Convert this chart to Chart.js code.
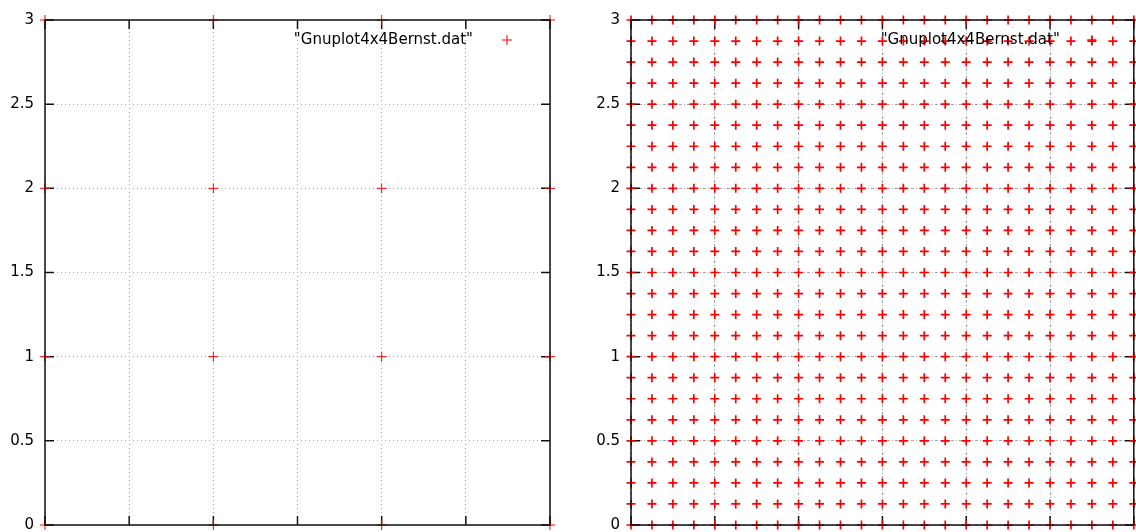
<!DOCTYPE html>
<html>
<head>
<meta charset="utf-8">
<script src="https://cdn.jsdelivr.net/npm/chart.js@4.4.1/dist/chart.umd.min.js"></script>
<style>
  html, body { margin: 0; padding: 0; width: 1136px; height: 532px; overflow: hidden; background: #fff; }
  .panel { position: absolute; top: 0; height: 532px; }
  #p1 { left: 0; width: 568px; }
  #p2 { left: 568px; width: 572px; }
</style>
</head>
<body>
<div class="panel" id="p1"><canvas id="c1"></canvas></div>
<div class="panel" id="p2"><canvas id="c2"></canvas></div>
<script>
// Node coordinates of the coarse 4x4 grid
const coarseX = [0, 1, 2, 3];
const coarseY = [0, 1, 2, 3];

// Node coordinates of the refined grid (1/8 spacing)
const fineX = [0, 0.125, 0.25, 0.375, 0.5, 0.625, 0.75, 0.875, 1, 1.125, 1.25, 1.375, 1.5,
               1.625, 1.75, 1.875, 2, 2.125, 2.25, 2.375, 2.5, 2.625, 2.75, 2.875, 3];
const fineY = [0, 0.125, 0.25, 0.375, 0.5, 0.625, 0.75, 0.875, 1, 1.125, 1.25, 1.375, 1.5,
               1.625, 1.75, 1.875, 2, 2.125, 2.25, 2.375, 2.5, 2.625, 2.75, 2.875, 3];

// Axis ticks shared by both plots
const tickValues = [0, 0.5, 1, 1.5, 2, 2.5, 3];
const tickLabels = ['0', '0.5', '1', '1.5', '2', '2.5', '3'];

const seriesLabel = '"Gnuplot4x4Bernst.dat"';

// Every (x, y) pair of two coordinate lists
function gridPoints(xs, ys) {
  const pts = [];
  for (const yv of ys) for (const xv of xs) pts.push({ x: xv, y: yv });
  return pts;
}

const FONT = '"DejaVu Sans", "Liberation Sans", sans-serif';
const FONT_SIZE = 15;

// Inward tick marks on all four sides, drawn under the points
const tickMarks = {
  id: 'tickMarks',
  beforeDatasetsDraw(chart) {
    const { ctx, chartArea: a, scales: { x, y } } = chart;
    const len = 9;
    ctx.save();
    ctx.strokeStyle = '#111';
    ctx.lineWidth = 1.5;
    ctx.setLineDash([]);
    ctx.beginPath();
    for (const t of x.ticks) {
      const px = x.getPixelForValue(t.value);
      ctx.moveTo(px, a.bottom); ctx.lineTo(px, a.bottom - len);
      ctx.moveTo(px, a.top); ctx.lineTo(px, a.top + len);
    }
    for (const t of y.ticks) {
      const py = y.getPixelForValue(t.value);
      ctx.moveTo(a.left, py); ctx.lineTo(a.left + len, py);
      ctx.moveTo(a.right, py); ctx.lineTo(a.right - len, py);
    }
    ctx.stroke();
    ctx.restore();
  }
};

// Plot frame and the key in the upper right corner, drawn over the points
const frameAndKey = {
  id: 'frameAndKey',
  afterDatasetsDraw(chart, args, opts) {
    const { ctx, chartArea: a } = chart;
    const ds = chart.data.datasets[0];
    ctx.save();
    ctx.setLineDash([]);
    ctx.strokeStyle = '#111';
    ctx.lineWidth = 1.5;
    ctx.strokeRect(a.left, a.top, a.right - a.left, a.bottom - a.top);

    const ky = a.top + 20;
    ctx.font = FONT_SIZE + 'px ' + FONT;
    ctx.fillStyle = '#000';
    ctx.textAlign = 'right';
    ctx.textBaseline = 'middle';
    ctx.fillText(ds.label, a.right - opts.textGap, ky);

    const kx = a.right - opts.keyGap;
    const r = ds.pointRadius;
    ctx.strokeStyle = ds.borderColor;
    ctx.lineWidth = ds.borderWidth;
    ctx.beginPath();
    ctx.moveTo(kx - r, ky); ctx.lineTo(kx + r, ky);
    ctx.moveTo(kx, ky - r); ctx.lineTo(kx, ky + r);
    ctx.stroke();
    ctx.restore();
  }
};

function makeChart(canvasId, xs, ys, cfg) {
  const useTicks = (scale) => { scale.ticks = tickValues.map(v => ({ value: v })); };
  return new Chart(document.getElementById(canvasId), {
    type: 'scatter',
    data: {
      datasets: [{
        label: seriesLabel,
        data: gridPoints(xs, ys),
        pointStyle: 'cross',
        pointRadius: cfg.radius,
        pointHoverRadius: cfg.radius,
        borderColor: '#ff0000',
        backgroundColor: '#ff0000',
        borderWidth: cfg.width,
        clip: false
      }]
    },
    plugins: [tickMarks, frameAndKey],
    options: {
      responsive: true,
      maintainAspectRatio: false,
      animation: false,
      events: [],
      layout: { padding: { top: 20, right: cfg.padRight, bottom: 7, left: 0 } },
      plugins: {
        legend: { display: false },
        tooltip: { enabled: false },
        frameAndKey: { textGap: cfg.textGap, keyGap: cfg.keyGap }
      },
      scales: {
        x: {
          type: 'linear', min: 0, max: 3,
          ticks: { display: false },
          grid: { color: '#a6a6a6', lineWidth: 1, drawTicks: false },
          border: { display: false, dash: cfg.dash },
          afterBuildTicks: useTicks,
          afterFit: (s) => { s.height = 0; s.paddingLeft = 0; s.paddingRight = 0; }
        },
        y: {
          type: 'linear', min: 0, max: 3,
          ticks: {
            color: '#000',
            padding: 11,
            font: { family: FONT, size: FONT_SIZE },
            callback: (v, i) => tickLabels[i]
          },
          grid: { color: '#a6a6a6', lineWidth: 1, drawTicks: false },
          border: { display: false, dash: cfg.dash },
          afterBuildTicks: useTicks,
          afterFit: (s) => { s.width = cfg.axisWidth; s.paddingTop = 0; s.paddingBottom = 0; }
        }
      }
    }
  });
}

makeChart('c1', coarseX, coarseY,
  { radius: 5, width: 1, dash: [1, 3], axisWidth: 45, padRight: 18, textGap: 77, keyGap: 43 });
makeChart('c2', fineX, fineY,
  { radius: 4.5, width: 1.7, dash: [3, 2, 1, 2], axisWidth: 63, padRight: 3, textGap: 74, keyGap: 42 });
</script>
</body>
</html>
